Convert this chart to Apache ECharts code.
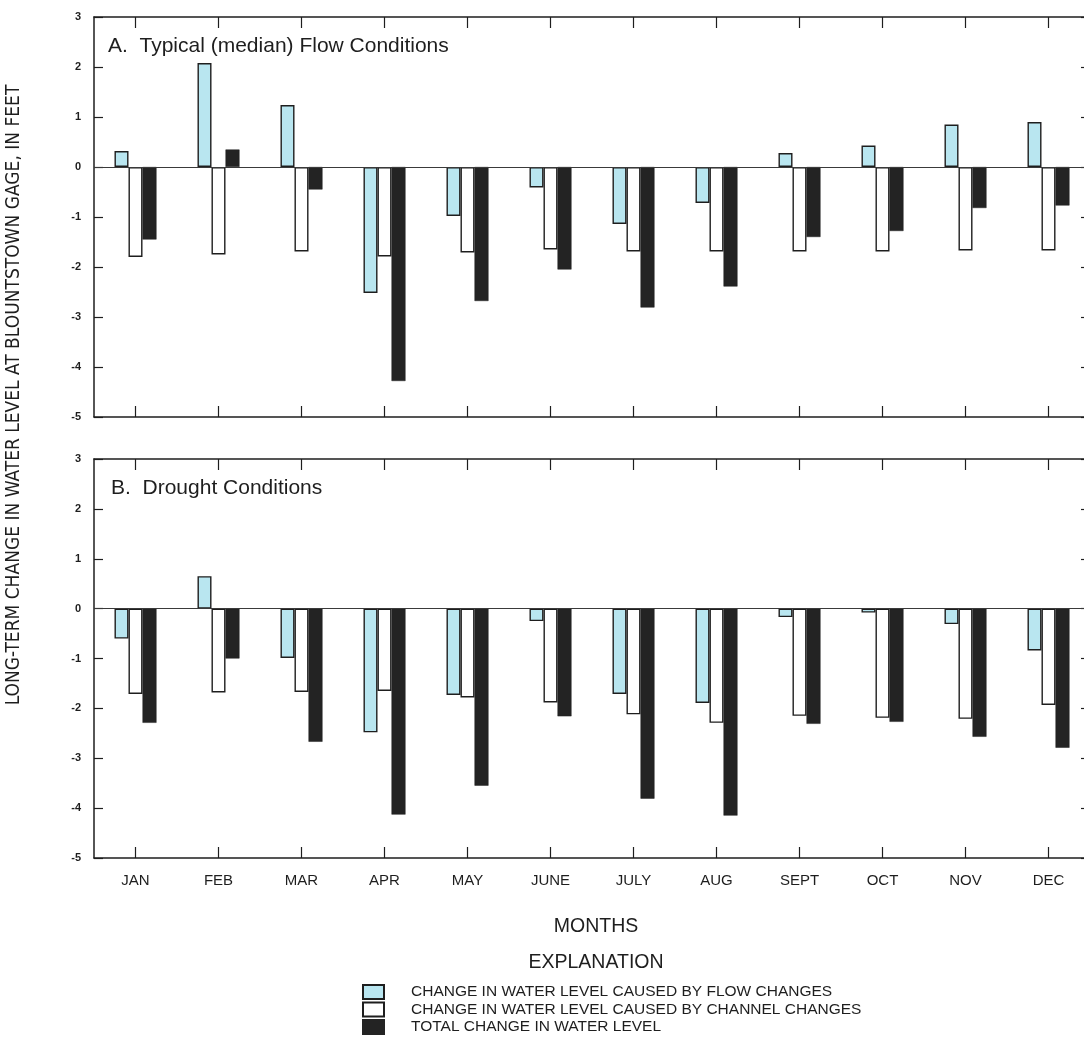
<!DOCTYPE html>
<html>
<head>
<meta charset="utf-8">
<script src="https://cdn.jsdelivr.net/npm/echarts@6/dist/echarts.min.js"></script>
<style>
html,body{margin:0;padding:0;background:#fff;overflow:hidden;}
#chart{width:1090px;height:1049px;}
</style>
</head>
<body>
<div id="chart"></div>
<script>
const months = ['JAN','FEB','MAR','APR','MAY','JUNE','JULY','AUG','SEPT','OCT','NOV','DEC'];
const yTicks = [3, 2, 1, 0, -1, -2, -3, -4, -5];

const typicalFlow    = [0.32, 2.08, 1.24, -2.52, -0.98, -0.41, -1.14, -0.72, 0.28, 0.43, 0.85, 0.90];
const typicalChannel = [-1.80, -1.75, -1.69, -1.79, -1.71, -1.65, -1.69, -1.69, -1.69, -1.69, -1.67, -1.67];
const typicalTotal   = [-1.45, 0.35, -0.45, -4.28, -2.68, -2.05, -2.81, -2.39, -1.40, -1.28, -0.82, -0.77];

const droughtFlow    = [-0.60, 0.65, -0.99, -2.48, -1.73, -0.25, -1.71, -1.89, -0.17, -0.08, -0.31, -0.84];
const droughtChannel = [-1.71, -1.68, -1.67, -1.65, -1.78, -1.88, -2.12, -2.29, -2.15, -2.19, -2.21, -1.93];
const droughtTotal   = [-2.29, -1.00, -2.67, -4.13, -3.55, -2.16, -3.81, -4.15, -2.31, -2.27, -2.57, -2.79];

const seriesNames = [
  'CHANGE IN WATER LEVEL CAUSED BY FLOW CHANGES',
  'CHANGE IN WATER LEVEL CAUSED BY CHANNEL CHANGES',
  'TOTAL CHANGE IN WATER LEVEL'
];

const INK = '#1e1e1e';
const FONT = '"Liberation Sans", Arial, sans-serif';
const NARROW = '"Liberation Sans Narrow", "DejaVu Sans Condensed", "Liberation Sans", sans-serif';

const chart = echarts.init(document.getElementById('chart'), null, {renderer: 'canvas'});

function xAx(gridIndex, pos, showLabel) {
  return {
    type: 'category', gridIndex: gridIndex, position: pos, data: months,
    boundaryGap: true,
    axisLine: {show: true, onZero: false, lineStyle: {color: INK, width: 1.5}},
    axisTick: {show: true, inside: true, length: 11, alignWithLabel: true, lineStyle: {color: INK, width: 1.2}},
    axisLabel: {show: showLabel, margin: 15, color: INK, fontFamily: FONT, fontSize: 15},
    splitLine: {show: false}
  };
}
function yAx(gridIndex, pos, showLabel) {
  return {
    type: 'value', gridIndex: gridIndex, position: pos, min: -5, max: 3, interval: 1,
    axisLine: {show: true, lineStyle: {color: INK, width: 1.5}},
    axisTick: {show: true, inside: true, length: 9, lineStyle: {color: INK, width: 1.2}},
    axisLabel: {show: showLabel, margin: 13, color: INK, fontFamily: FONT, fontSize: 11, fontWeight: 'bold'},
    splitLine: {show: false}
  };
}

const styles = [
  {color: '#b9e6f0', borderColor: INK, borderWidth: 1.4},
  {color: '#ffffff', borderColor: INK, borderWidth: 1.4},
  {color: '#232323', borderColor: '#232323', borderWidth: 0.5}
];

function bars(gridIdx, arrs) {
  return arrs.map((d, i) => {
    const s = {
      name: seriesNames[i], type: 'bar', xAxisIndex: gridIdx * 2, yAxisIndex: gridIdx * 2,
      data: d, barWidth: 14, barGap: '0%', itemStyle: styles[i],
      emphasis: {disabled: true}, animation: false
    };
    if (i === 0) {
      s.markLine = {
        silent: true, symbol: 'none', label: {show: false},
        lineStyle: {color: '#3a3a3a', width: 1.2, type: 'solid'},
        data: [{yAxis: 0}]
      };
    }
    return s;
  });
}

const option = {
  backgroundColor: '#ffffff',
  animation: false,
  title: [
    {text: 'A.  Typical (median) Flow Conditions', left: 103, top: 31,
     textStyle: {fontFamily: FONT, fontSize: 21, fontWeight: 'normal', color: INK}},
    {text: 'B.  Drought Conditions', left: 106, top: 473,
     textStyle: {fontFamily: FONT, fontSize: 21, fontWeight: 'normal', color: INK}}
  ],
  grid: [
    {left: 94, top: 17, width: 996, height: 400},
    {left: 94, top: 459, width: 996, height: 399}
  ],
  xAxis: [xAx(0, 'bottom', false), xAx(0, 'top', false), xAx(1, 'bottom', true), xAx(1, 'top', false)],
  yAxis: [yAx(0, 'left', true), yAx(0, 'right', false), yAx(1, 'left', true), yAx(1, 'right', false)],
  legend: {
    orient: 'vertical', left: 362, top: 984, padding: 0,
    itemWidth: 21, itemHeight: 14, itemGap: 1.5,
    icon: 'rect',
    selectedMode: false,
    data: seriesNames,
    textStyle: {fontFamily: FONT, fontSize: 15.5, color: INK, padding: [0, 0, 0, 22], lineHeight: 14}
  },
  graphic: [
    {type: 'text', x: 14, y: 395, rotation: Math.PI / 2,
     style: {text: 'LONG-TERM CHANGE IN WATER LEVEL AT BLOUNTSTOWN GAGE, IN FEET',
             fontFamily: NARROW, fontSize: 19, fill: INK, textAlign: 'center', textVerticalAlign: 'middle'}},
    {type: 'text', x: 596, y: 927,
     style: {text: 'MONTHS', fontFamily: FONT, fontSize: 19.5, fill: INK, textAlign: 'center', textVerticalAlign: 'middle'}},
    {type: 'text', x: 596, y: 963,
     style: {text: 'EXPLANATION', fontFamily: FONT, fontSize: 19.5, fill: INK, textAlign: 'center', textVerticalAlign: 'middle'}}
  ],
  series: [].concat(
    bars(0, [typicalFlow, typicalChannel, typicalTotal]),
    bars(1, [droughtFlow, droughtChannel, droughtTotal])
  )
};
chart.setOption(option);
</script>
</body>
</html>
